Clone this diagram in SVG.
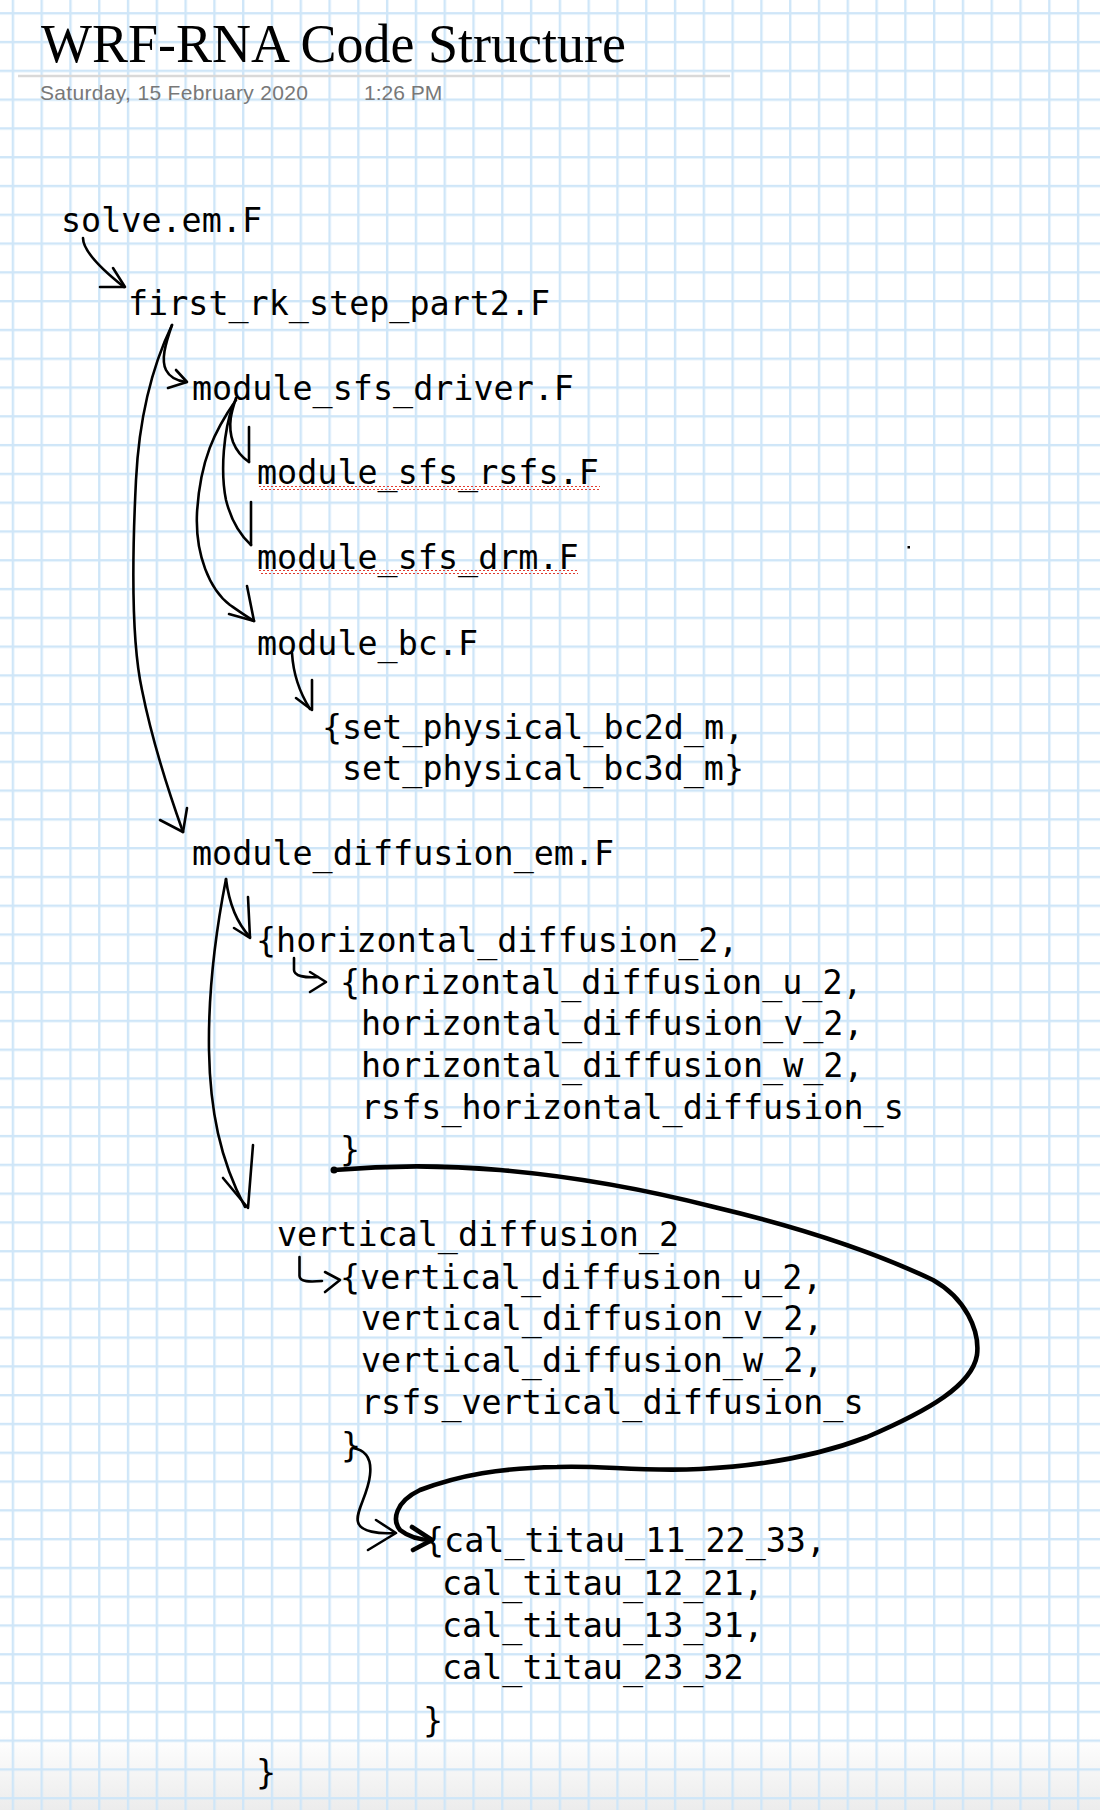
<svg xmlns="http://www.w3.org/2000/svg" width="1100" height="1810" viewBox="0 0 1100 1810">
<defs>
<pattern id="grid" x="11.7" y="12.1" width="28.79" height="28.79" patternUnits="userSpaceOnUse">
<rect x="0" y="0" width="28.79" height="2.4" fill="#cfe6f8"/>
<rect x="0" y="0" width="2.4" height="28.79" fill="#cfe6f8"/>
</pattern>
<pattern id="squig" x="0" y="0" width="4" height="4" patternUnits="userSpaceOnUse">
<path d="M0,3 L2,1 L4,3" fill="none" stroke="#e23a2e" stroke-width="1"/>
</pattern>
<linearGradient id="fade" x1="0" y1="0" x2="0" y2="1">
<stop offset="0" stop-color="#ffffff"/>
<stop offset="1" stop-color="#ececec"/>
</linearGradient>
<style>
.code{font-family:"DejaVu Sans Mono",monospace;font-size:33.4px;fill:#000}
.ink{fill:none;stroke:#000;stroke-width:2.6;stroke-linecap:round;stroke-linejoin:round}
.thick{fill:none;stroke:#000;stroke-width:4.6;stroke-linecap:round;stroke-linejoin:round}
.meta{font-family:"Liberation Sans",Arial,sans-serif;font-size:21px;fill:#787878}
</style>
</defs>
<rect width="1100" height="1810" fill="#ffffff"/>
<rect x="0" y="1735" width="1100" height="75" fill="url(#fade)"/>
<rect width="1100" height="1810" fill="url(#grid)"/>

<g id="header">
<text x="41" y="62" font-family="'Liberation Serif','Times New Roman',serif" font-size="54" fill="#000">WRF-RNA Code Structure</text>
<line x1="18" y1="76" x2="730" y2="76" stroke="#d9d9d9" stroke-width="2.4"/>
<text class="meta" x="40" y="100" textLength="268">Saturday, 15 February 2020</text>
<text class="meta" x="364" y="100">1:26 PM</text>
</g>

<g id="connectors">
<path class="ink" d="M83,238 C83,250 100,268 124,287"/>
<path class="ink" d="M113,268 L125,287 L100,287"/>
<path class="ink" d="M172,325 C160,350 140,400 136,480 C132,560 131,640 142,690 C152,740 168,790 183,832"/>
<path class="ink" d="M187,808 L183,832 L160,820"/>
<path class="ink" d="M172,325 C165,345 161,360 166,370 C170,378 178,381 186,382"/>
<path class="ink" d="M176,370 L187,382 L168,388"/>
<path class="ink" d="M236,398 C232,410 227,425 233,442 C237,452 243,458 249,462"/>
<path class="ink" d="M249,427 L249,462"/>
<path class="ink" d="M233,405 C224,430 220,470 226,500 C231,520 240,535 251,545"/>
<path class="ink" d="M251,502 L251,545"/>
<path class="ink" d="M236,400 C215,430 200,460 197,513 C195,555 210,590 230,605 C240,612 247,617 254,621"/>
<path class="ink" d="M247,586 L254,621 L229,614"/>
<path class="ink" d="M292,653 C293,670 298,690 310,709"/>
<path class="ink" d="M312,680 L312,710 L296,698"/>
<path class="ink" d="M226,879 C228,895 234,920 250,937"/>
<path class="ink" d="M248,897 L250,938 L234,928"/>
<path class="ink" d="M226,879 C218,920 208,980 209,1050 C210,1110 220,1160 245,1207"/>
<path class="ink" d="M253,1145 L248,1208 L223,1178"/>
<path class="ink" d="M294,958 L294,970 C294,976 305,978 318,977"/>
<path class="ink" d="M310,972 L326,982 L310,992"/>
<path class="ink" d="M299.5,1257 L299.5,1276 C299.5,1282 310,1282 322,1281"/>
<path class="ink" d="M325,1272 L340,1280 L325,1292"/>
<path class="ink" d="M353,1448 C365,1450 372,1458 370,1475 C368,1495 355,1512 358,1522 C360,1532 380,1534 394,1533"/>
<path class="ink" d="M376,1520 L396,1533 L368,1550"/>
<circle cx="334" cy="1170" r="3.5" fill="#000"/>
<path class="thick" d="M334,1170 C380,1166 430,1164 500,1170 C570,1176 640,1188 714,1207 C790,1225 870,1250 933,1280 C965,1298 980,1330 977,1355 C972,1385 930,1410 867,1437 C820,1455 760,1466 700,1469 C640,1472 600,1465 557,1467 C500,1468 460,1475 420,1490 C395,1502 392,1520 400,1530 C410,1538 420,1540 432,1540"/>
<path class="thick" d="M412,1527 L432,1540 L413,1550"/>
</g>

<g id="n-solve"><text class="code" x="61" y="232">solve.em.F</text></g>
<g id="n-first-rk"><text class="code" x="128" y="315">first_rk_step_part2.F</text></g>
<g id="n-sfs-driver"><text class="code" x="192" y="400">module_sfs_driver.F</text></g>
<g id="n-sfs-rsfs">
<rect x="259" y="486" width="341" height="4" fill="url(#squig)"/>
<text class="code" x="257" y="484">module_sfs_rsfs.F</text>
</g>
<g id="n-sfs-drm">
<rect x="259" y="570" width="319" height="4" fill="url(#squig)"/>
<text class="code" x="257" y="569">module_sfs_drm.F</text>
</g>
<g id="n-bc"><text class="code" x="257" y="655">module_bc.F</text></g>
<g id="n-set-physical">
<text class="code" x="322" y="739">{set_physical_bc2d_m,</text>
<text class="code" x="342" y="780">set_physical_bc3d_m}</text>
</g>
<g id="n-diffusion"><text class="code" x="192" y="865">module_diffusion_em.F</text></g>
<g id="n-horizontal"><text class="code" x="256" y="952">{horizontal_diffusion_2,</text></g>
<g id="n-horizontal-sub">
<text class="code" x="340" y="994">{horizontal_diffusion_u_2,</text>
<text class="code" x="361" y="1035">horizontal_diffusion_v_2,</text>
<text class="code" x="361" y="1077">horizontal_diffusion_w_2,</text>
<text class="code" x="361" y="1119">rsfs_horizontal_diffusion_s</text>
<text class="code" x="340" y="1161">}</text>
</g>
<g id="n-vertical"><text class="code" x="277" y="1246">vertical_diffusion_2</text></g>
<g id="n-vertical-sub">
<text class="code" x="340" y="1289">{vertical_diffusion_u_2,</text>
<text class="code" x="361" y="1330">vertical_diffusion_v_2,</text>
<text class="code" x="361" y="1372">vertical_diffusion_w_2,</text>
<text class="code" x="361" y="1414">rsfs_vertical_diffusion_s</text>
<text class="code" x="341" y="1457">}</text>
</g>
<g id="n-cal-titau">
<text class="code" x="424" y="1552">{cal_titau_11_22_33,</text>
<text class="code" x="442" y="1595">cal_titau_12_21,</text>
<text class="code" x="442" y="1637">cal_titau_13_31,</text>
<text class="code" x="442" y="1679">cal_titau_23_32</text>
<text class="code" x="423" y="1732">}</text>
</g>
<g id="n-close"><text class="code" x="256" y="1784">}</text></g>
<rect x="907.5" y="546" width="2.5" height="2.5" fill="#000"/>
</svg>
